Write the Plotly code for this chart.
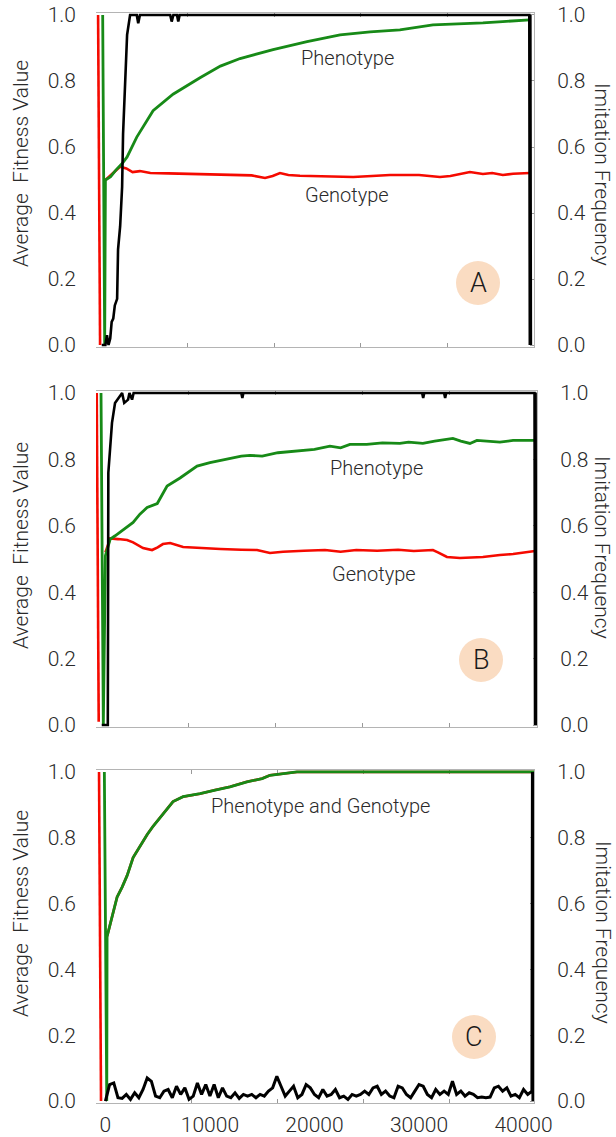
import plotly.graph_objects as go

# ---------------- data ----------------
# Panel A
red_a_x = [-700, -510, None, 0, 700, 1400, 2000, 2600, 3300, 4300, 6000, 9000, 11000, 12880, 14000, 15270,
           16000, 16700, 17500, 18610, 21000, 23700, 25500, 27220, 30000, 32000, 33000, 34870, 36110,
           37000, 38020, 39000, 40600]
red_a_y = [1.0, 0.0, None, 0.50, 0.52, 0.54, 0.535, 0.524, 0.527, 0.521, 0.52, 0.518, 0.517, 0.515, 0.514,
           0.506, 0.512, 0.521, 0.515, 0.513, 0.512, 0.509, 0.512, 0.515, 0.515, 0.509, 0.512, 0.524, 0.518,
           0.521, 0.515, 0.519, 0.521]
green_a_x = [-260, -70, 0, 500, 1000, 1600, 2075, 3000, 4560, 6470, 9050, 11000, 12880, 16040, 19290,
             22450, 25330, 28170, 31330, 33500, 36110, 38000, 40600]
green_a_y = [1.0, 0.0, 0.50, 0.51, 0.53, 0.55, 0.57, 0.63, 0.71, 0.76, 0.81, 0.845, 0.868, 0.895, 0.919,
             0.94, 0.949, 0.955, 0.97, 0.972, 0.976, 0.98, 0.985]
black_a_x = [-350, 0, 150, 300, 460, 600, 750, 900, 1120, 1210, 1410, 1600, 1690, 1880, 2075, 2360, 3000,
             3140, 3300, 6200, 6340, 6500, 6850, 6970, 7100, 40550, 40600, 40650, 40700]
black_a_y = [0.0, 0.0, 0.03, 0.0, 0.02, 0.07, 0.08, 0.12, 0.14, 0.29, 0.36, 0.48, 0.64, 0.79, 0.94, 1.0, 1.0,
             0.975, 1.0, 1.0, 0.98, 1.0, 1.0, 0.98, 1.0, 1.0, 0.0, 1.0, 0.0]

# Panel B
red_b_x = [-830, -640, None, 0, 460, 1200, 2075, 2650, 3600, 4460, 5000, 5500, 6190, 7430, 9050, 11000,
           13000, 14500, 15740, 17000, 19000, 21000, 22500, 24000, 26000, 28000, 29500, 31330, 31810,
           32670, 33910, 35000, 36110, 37740, 39000, 41100]
red_b_y = [1.0, 0.01, None, 0.52, 0.562, 0.56, 0.557, 0.55, 0.533, 0.527, 0.535, 0.545, 0.548, 0.536, 0.533,
           0.53, 0.528, 0.527, 0.518, 0.522, 0.525, 0.527, 0.522, 0.527, 0.525, 0.528, 0.524, 0.527, 0.52,
           0.506, 0.503, 0.505, 0.506, 0.512, 0.515, 0.524]
green_b_x = [-420, -200, 0, 460, 930, 1800, 2650, 3300, 3990, 4960, 5900, 7140, 8770, 10000, 11500, 13000,
             13830, 15000, 16500, 18610, 20000, 21480, 22500, 23390, 25000, 26500, 28170, 29000, 30370,
             31500, 33240, 34000, 34870, 35540, 36500, 37740, 39000, 41100]
green_b_y = [1.0, 0.0, 0.51, 0.56, 0.57, 0.59, 0.61, 0.635, 0.655, 0.667, 0.72, 0.744, 0.78, 0.79, 0.80,
             0.81, 0.812, 0.81, 0.82, 0.825, 0.83, 0.84, 0.835, 0.845, 0.845, 0.85, 0.848, 0.852, 0.848,
             0.855, 0.863, 0.855, 0.848, 0.857, 0.855, 0.852, 0.857, 0.857]
black_b_x = [-350, 150, 230, 280, 630, 920, 1400, 1600, 1800, 2170, 2300, 2550, 2700, 13000, 13100, 13200,
             30300, 30400, 30500, 32400, 32500, 32600, 41050, 41100, 41150, 41200]
black_b_y = [0.0, 0.0, 0.0, 0.76, 0.91, 0.97, 0.99, 1.0, 0.97, 0.98, 1.0, 0.98, 1.0, 1.0, 0.985, 1.0,
             1.0, 0.985, 1.0, 1.0, 0.985, 1.0, 1.0, 0.0, 1.0, 0.0]

# Panel C
green_c_x = [-100, 130, 160, 640, 1120, 1600, 2075, 2650, 3320, 4000, 4560, 5520, 6470, 7430, 9050, 10500,
             11920, 13540, 15000, 15740, 17000, 18320, 41000]
green_c_y = [1.0, 0.0, 0.50, 0.56, 0.62, 0.65, 0.685, 0.74, 0.775, 0.81, 0.835, 0.874, 0.91, 0.925, 0.934,
             0.945, 0.955, 0.97, 0.98, 0.99, 0.995, 1.0, 1.0]
red_c_x = [-610, -420, None, 160, 640, 1120, 1600, 2075, 2650, 3320, 4000, 4560, 5520, 6470, 7430, 9050,
           10500, 11920, 13540, 15000, 15740, 17000, 18320, 41000]
red_c_y = [1.0, 0.0, None, 0.50, 0.56, 0.62, 0.65, 0.685, 0.74, 0.775, 0.81, 0.835, 0.874, 0.91, 0.925,
           0.934, 0.945, 0.955, 0.97, 0.98, 0.99, 0.995, 1.0, 1.0]
black_c_x = list(range(0, 40801, 400)) + [40850, 40900, 40950]
black_c_y = [0.0, 0.05, 0.055, 0.01, 0.008, 0.02, 0.005, 0.025, 0.01, 0.035,
             0.07, 0.06, 0.015, 0.01, 0.03, 0.035, 0.01, 0.045, 0.02, 0.04,
             0.005, 0.015, 0.055, 0.02, 0.05, 0.015, 0.05, 0.01, 0.04, 0.015,
             0.01, 0.025, 0.008, 0.02, 0.015, 0.02, 0.01, 0.02, 0.015, 0.03,
             0.04, 0.075, 0.045, 0.015, 0.03, 0.045, 0.01, 0.02, 0.05, 0.04,
             0.02, 0.01, 0.035, 0.015, 0.02, 0.035, 0.01, 0.015, 0.005, 0.02,
             0.015, 0.02, 0.03, 0.02, 0.04, 0.045, 0.02, 0.03, 0.015, 0.01,
             0.045, 0.04, 0.02, 0.01, 0.03, 0.05, 0.045, 0.02, 0.01, 0.035,
             0.02, 0.03, 0.02, 0.06, 0.02, 0.03, 0.015, 0.025, 0.02, 0.01,
             0.012, 0.01, 0.012, 0.04, 0.045, 0.03, 0.04, 0.015, 0.02, 0.01,
             0.035, 0.02, 0.03, 1.0, 0.0, 1.0]

x_tick_vals = [0, 10000, 20000, 30000, 40000]
x_tick_text = ["0", "10000", "20000", "30000", "40000"]
y_tick_vals = [0.0, 0.2, 0.4, 0.6, 0.8, 1.0]
left_title = "Average  Fitness Value"
right_title = "Imitation Frequency"
panel_letters = ["A", "B", "C"]
curve_labels = [[("Phenotype", 347, 58), ("Genotype", 347, 195)],
                [("Phenotype", 376, 468), ("Genotype", 374, 574)],
                [("Phenotype and Genotype", 320, 806)]]

# ---------------- layout helpers ----------------
W, H = 616, 1137
ML, MR, MT, MB = 96, 79, 13, 34
PW = W - ML - MR
PH = H - MT - MB


def fx(px):
    return (px - ML) / PW


def fy(py):
    return (H - MB - py) / PH


FONT = "Roboto, 'Liberation Sans', Arial, sans-serif"
TXT = "#2a2a2a"
RED = "#f50a00"
GREEN = "#178a17"
BLACK = "#000000"
FRAME = "#b4b4b4"
FS = 21

panels = [
    dict(top=13, bot=347, right=534, xr=[-900, 41000], frame=(101, 534), circ=(478, 283),
         lt=164, rt=174, rx=602, bw=2.6,
         data=[(red_a_x, red_a_y), (green_a_x, green_a_y), (black_a_x, black_a_y)]),
    dict(top=391, bot=727, right=537, xr=[-900, 41287], frame=(101.7, 537), circ=(481, 660),
         lt=546, rt=547, rx=602, bw=2.6,
         data=[(red_b_x, red_b_y), (green_b_x, green_b_y), (black_b_x, black_b_y)]),
    dict(top=770, bot=1103, right=534, xr=[-900, 41000], frame=(106, 535), circ=(474, 1037),
         lt=914, rt=932, rx=603, bw=3.0,
         data=[(red_c_x, red_c_y), (green_c_x, green_c_y), (black_c_x, black_c_y)]),
]

fig = go.Figure()
layout = dict(width=W, height=H, margin=dict(l=ML, r=MR, t=MT, b=MB, autoexpand=False),
              paper_bgcolor="white", plot_bgcolor="rgba(0,0,0,0)", showlegend=False,
              font=dict(family=FONT, size=FS, color=TXT, weight=300))
annotations = []
shapes = []

for i, p in enumerate(panels):
    n = i + 1
    xm, xf = n, n + 3      # main x axis, frame-tick x axis
    yl, yr = n, n + 3      # left y axis, right y axis
    dom_x = [0, fx(p["right"])]
    dom_y = [fy(p["bot"]), fy(p["top"])]
    yrange = [-0.006, 1.006]

    (rx_, ry_), (gx_, gy_), (bx_, by_) = p["data"]
    fig.add_trace(go.Scatter(x=rx_, y=ry_, mode="lines", line=dict(color=RED, width=2.6),
                             xaxis=f"x{xm}", yaxis=f"y{yl}", hoverinfo="skip"))
    fig.add_trace(go.Scatter(x=gx_, y=gy_, mode="lines", line=dict(color=GREEN, width=2.8),
                             xaxis=f"x{xm}", yaxis=f"y{yl}", hoverinfo="skip"))
    fig.add_trace(go.Scatter(x=bx_, y=by_, mode="lines", line=dict(color=BLACK, width=p["bw"]),
                             xaxis=f"x{xm}", yaxis=f"y{yr}", hoverinfo="skip"))
    fig.add_trace(go.Scatter(x=[], y=[], mode="lines", xaxis=f"x{xf}", yaxis=f"y{yl}",
                             hoverinfo="skip"))

    layout[f"xaxis{xm}"] = dict(domain=dom_x, range=p["xr"], anchor=f"y{yl}", automargin=False,
                               showline=False, showgrid=False, zeroline=False, ticks="",
                               tickvals=x_tick_vals, ticktext=x_tick_text,
                               showticklabels=(n == 3), ticklabelstandoff=7,
                               tickfont=dict(size=FS, color=TXT))
    fl, fr = p["frame"]
    d0, d1 = ML, p["right"]
    unit = (fr - fl) / 5.0
    layout[f"xaxis{xf}"] = dict(overlaying=f"x{xm}", anchor=f"y{yl}", automargin=False,
                               range=[(d0 - fl) / unit, (d1 - fl) / unit],
                               tickvals=[1, 2, 3, 4], ticks="inside", ticklen=4, tickcolor="#999",
                               showticklabels=False, showgrid=False, zeroline=False,
                               showline=True, linecolor=FRAME, linewidth=1, mirror="ticks",
                               layer="below traces")
    layout[f"yaxis{yl}"] = dict(domain=dom_y, range=yrange, anchor=f"x{xm}", automargin=False,
                               tickvals=y_tick_vals, tickformat=".1f", ticks="",
                               showline=False, showgrid=False, zeroline=False,
                               ticklabelstandoff=19, tickfont=dict(size=FS, color=TXT))
    layout[f"yaxis{yr}"] = dict(overlaying=f"y{yl}", side="right", anchor=f"x{xm}", range=yrange,
                               automargin=False,
                               tickvals=y_tick_vals, tickformat=".1f", ticks="inside", ticklen=4,
                               tickcolor="#999", showline=True, linecolor=FRAME, linewidth=1,
                               showgrid=False, zeroline=False, ticklabelstandoff=18,
                               layer="below traces", tickfont=dict(size=FS, color=TXT))

    annotations.append(dict(text=left_title, x=fx(21), y=fy(p["lt"]), xref="paper", yref="paper",
                            showarrow=False, textangle=-90, xanchor="center", yanchor="middle",
                            font=dict(size=FS, color=TXT)))
    annotations.append(dict(text=right_title, x=fx(p["rx"]), y=fy(p["rt"]), xref="paper", yref="paper",
                            showarrow=False, textangle=90, xanchor="center", yanchor="middle",
                            font=dict(size=FS, color=TXT)))
    for (txt, cx, cy) in curve_labels[i]:
        annotations.append(dict(text=txt, x=fx(cx), y=fy(cy), xref="paper", yref="paper",
                                showarrow=False, xanchor="center", yanchor="middle",
                                font=dict(size=20, color=TXT)))
    cx, cy = p["circ"]
    shapes.append(dict(type="circle", xref="paper", yref="paper", xsizemode="pixel",
                       ysizemode="pixel", xanchor=fx(cx), yanchor=fy(cy), x0=-22, x1=22,
                       y0=-22, y1=22, fillcolor="#fadcc2", line=dict(width=0), layer="below"))
    annotations.append(dict(text=panel_letters[i], x=fx(cx), y=fy(cy), xref="paper", yref="paper",
                            showarrow=False, xanchor="center", yanchor="middle",
                            font=dict(size=27, color="#1a1a1a")))

layout["annotations"] = annotations
layout["shapes"] = shapes
fig.update_layout(**layout)
fig.write_html("out.html", config={"displayModeBar": False},
               post_script="document.body.style.margin='0px';")
